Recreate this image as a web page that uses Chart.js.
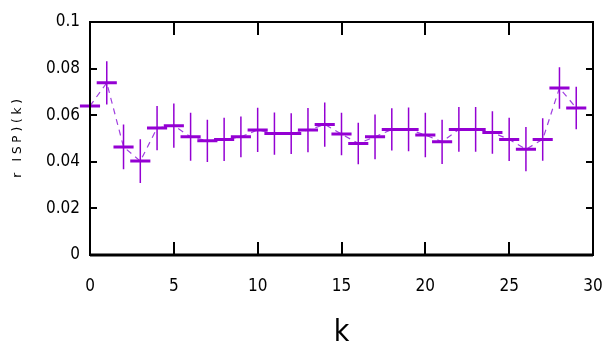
<!DOCTYPE html>
<html>
<head>
<meta charset="utf-8">
<script src="https://cdn.jsdelivr.net/npm/chart.js@4.4.0/dist/chart.umd.min.js"></script>
<style>
  body { margin: 0; background: #fff; }
  canvas { display: block; }
</style>
</head>
<body>
<canvas id="chart" width="605" height="347"></canvas>
<script>
// r_ISP(k) per bin k, with its error
var kValues = [0, 1, 2, 3, 4, 5, 6, 7, 8, 9, 10, 11, 12, 13, 14, 15, 16, 17, 18, 19, 20, 21, 22, 23, 24, 25, 26, 27, 28, 29];
var rValues = [0.064, 0.0739, 0.0464, 0.0403, 0.0545, 0.0555, 0.0507, 0.049, 0.0496, 0.0507,
               0.0537, 0.0521, 0.0521, 0.0536, 0.056, 0.0519, 0.0479, 0.0507, 0.0539, 0.0539,
               0.0515, 0.0486, 0.0539, 0.0539, 0.0526, 0.0496, 0.0454, 0.0496, 0.0717, 0.0631];
var rErrors = [0.0095, 0.0093, 0.0096, 0.0094, 0.0095, 0.0095, 0.0103, 0.0091, 0.0093, 0.0087,
               0.0095, 0.0091, 0.0087, 0.0095, 0.0095, 0.0091, 0.0089, 0.0096, 0.0091, 0.0094,
               0.0096, 0.0095, 0.0096, 0.0096, 0.0091, 0.0093, 0.0095, 0.0091, 0.0089, 0.0091];
var kHalfWidth = 0.6;
var xTicks = [0, 5, 10, 15, 20, 25, 30];
var yTicks = [0, 0.02, 0.04, 0.06, 0.08, 0.1];

var purple = '#9400d3';
var narrow = "'Liberation Sans Narrow', 'DejaVu Sans Condensed', sans-serif";
var tickFont = { family: narrow, size: 17 };

var linePoints = kValues.map(function(k, i) { return { x: k, y: rValues[i] }; });
var hBars = [];
var vBars = [];
kValues.forEach(function(k, i) {
    hBars.push({ x: k - kHalfWidth, y: rValues[i] }, { x: k + kHalfWidth, y: rValues[i] }, { x: k + kHalfWidth, y: null });
    vBars.push({ x: k, y: rValues[i] - rErrors[i] }, { x: k, y: rValues[i] + rErrors[i] }, { x: k, y: null });
});

// gnuplot style frame with inward ticks on all four sides
var frame = {
    id: 'frame',
    afterDraw(chart) {
        const {ctx, chartArea: a, scales} = chart;
        ctx.save();
        ctx.strokeStyle = '#000';
        ctx.lineWidth = 2;
        ctx.beginPath();
        xTicks.slice(1, -1).forEach(function(v) {
            const x = Math.round(scales.x.getPixelForValue(v));
            ctx.moveTo(x, a.bottom); ctx.lineTo(x, a.bottom - 13);
            ctx.moveTo(x, a.top); ctx.lineTo(x, a.top + 13);
        });
        yTicks.slice(1, -1).forEach(function(v) {
            const y = Math.round(scales.y.getPixelForValue(v));
            ctx.moveTo(a.left, y); ctx.lineTo(a.left + 7, y);
            ctx.moveTo(a.right, y); ctx.lineTo(a.right - 7, y);
        });
        ctx.stroke();
        ctx.strokeRect(a.left, a.top, a.right - a.left, a.bottom - a.top);
        ctx.lineWidth = 3;
        ctx.beginPath();
        ctx.moveTo(a.left, a.bottom); ctx.lineTo(a.right, a.bottom);
        ctx.stroke();
        ctx.restore();
    }
};

new Chart(document.getElementById('chart'), {
    type: 'line',
    data: {
        datasets: [
            {
                data: hBars,
                borderColor: purple,
                borderWidth: 3,
                pointRadius: 0,
                spanGaps: false,
                clip: false,
                order: 1
            },
            {
                data: vBars,
                borderColor: purple,
                borderWidth: 1.5,
                pointRadius: 0,
                spanGaps: false,
                order: 2
            },
            {
                data: linePoints,
                borderColor: '#a040e0',
                borderWidth: 1.2,
                borderDash: [6, 5],
                pointRadius: 0,
                order: 3
            }
        ]
    },
    plugins: [frame],
    options: {
        responsive: false,
        animation: false,
        layout: { padding: { left: 0, right: 12, top: 22, bottom: 0 } },
        plugins: { legend: { display: false }, tooltip: { enabled: false } },
        scales: {
            x: {
                type: 'linear',
                min: 0,
                max: 30,
                afterFit(scale) { scale.height = 92; scale.paddingRight = 0; scale.paddingLeft = 0; },
                afterBuildTicks(scale) { scale.ticks = xTicks.map(function(v) { return { value: v }; }); },
                grid: { display: false, drawTicks: false },
                border: { display: false },
                ticks: { color: '#000', font: tickFont, padding: 21, maxRotation: 0 },
                title: { display: true, text: 'k', color: '#000', font: { family: narrow, size: 30 }, padding: { bottom: -4 } }
            },
            y: {
                min: 0,
                max: 0.1,
                afterFit(scale) { scale.width = 90; scale.paddingTop = 0; scale.paddingBottom = 0; },
                afterBuildTicks(scale) { scale.ticks = yTicks.map(function(v) { return { value: v }; }); },
                grid: { display: false, drawTicks: false },
                border: { display: false },
                ticks: {
                    color: '#000',
                    font: tickFont,
                    padding: 10,
                    callback: function(v) { return String(+v.toFixed(2)); }
                },
                title: { display: true, text: 'r   I S P ) ( k )', color: '#000', font: { family: 'DejaVu Sans', size: 12 }, padding: { top: 11 } }
            }
        }
    }
});
</script>
</body>
</html>
